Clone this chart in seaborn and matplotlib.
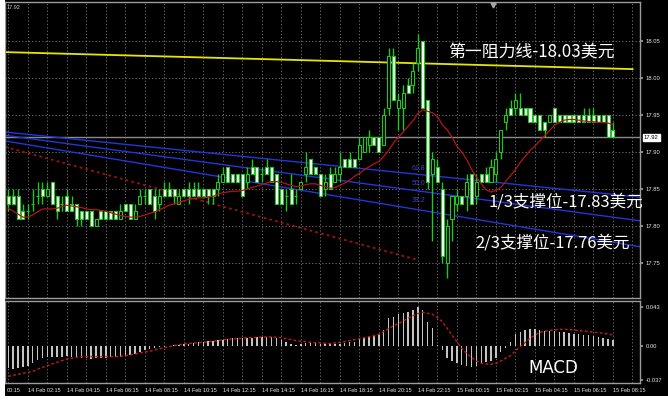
import numpy as np
import pandas as pd
import matplotlib
matplotlib.use("Agg")
import matplotlib.pyplot as plt
import matplotlib.transforms as mtransforms
import seaborn as sns

sns.set_theme(style="dark")
plt.rcParams["font.family"] = ["Noto Sans CJK SC", "DejaVu Sans"]
plt.rcParams["axes.unicode_minus"] = False

# ---- XAG/USD 15-minute bars, 14 Feb 01:15 .. 15 Feb 08:15 ----
open_ = [17.84, 17.84, 17.84, 17.82, 17.82, 17.83, 17.84, 17.85, 17.84, 17.86,
         17.84, 17.83, 17.84, 17.83, 17.83, 17.82, 17.82, 17.82, 17.80, 17.82,
         17.82, 17.82, 17.82, 17.81, 17.83, 17.83, 17.81, 17.83, 17.84, 17.85,
         17.84, 17.83, 17.85, 17.85, 17.85, 17.83, 17.85, 17.85, 17.85, 17.85,
         17.85, 17.85, 17.85, 17.85, 17.86, 17.88, 17.87, 17.87, 17.87, 17.86,
         17.88, 17.88, 17.87, 17.88, 17.88, 17.87, 17.85, 17.84, 17.85, 17.84,
         17.85, 17.87, 17.89, 17.88, 17.87, 17.85, 17.87, 17.86, 17.87, 17.89,
         17.89, 17.89, 17.89, 17.90, 17.91, 17.92, 17.92, 17.91, 17.96, 18.03,
         17.96, 17.96, 17.99, 17.99, 18.02, 18.05, 17.97, 17.87, 17.88, 17.85,
         17.75, 17.81, 17.83, 17.84, 17.84, 17.87, 17.84, 17.87, 17.87, 17.86,
         17.87, 17.90, 17.94, 17.96, 17.96, 17.96, 17.96, 17.96, 17.95, 17.95,
         17.94, 17.94, 17.96, 17.95, 17.95, 17.95, 17.95, 17.95, 17.95, 17.95,
         17.95, 17.95, 17.95, 17.95, 17.93]
high = [17.85, 17.85, 17.85, 17.83, 17.83, 17.85, 17.86, 17.86, 17.86, 17.86,
        17.84, 17.84, 17.85, 17.84, 17.83, 17.82, 17.82, 17.82, 17.81, 17.82,
        17.82, 17.82, 17.82, 17.83, 17.83, 17.83, 17.83, 17.85, 17.85, 17.85,
        17.85, 17.85, 17.86, 17.86, 17.85, 17.85, 17.85, 17.86, 17.86, 17.86,
        17.85, 17.85, 17.85, 17.87, 17.88, 17.88, 17.87, 17.87, 17.87, 17.88,
        17.89, 17.88, 17.88, 17.89, 17.88, 17.87, 17.85, 17.85, 17.87, 17.85,
        17.86, 17.90, 17.89, 17.88, 17.87, 17.87, 17.88, 17.88, 17.90, 17.89,
        17.90, 17.89, 17.92, 17.92, 17.93, 17.92, 17.92, 17.96, 18.04, 18.04,
        17.98, 17.99, 18.00, 18.02, 18.06, 18.05, 17.97, 17.90, 17.89, 17.86,
        17.81, 17.84, 17.85, 17.84, 17.87, 17.87, 17.87, 17.87, 17.88, 17.89,
        17.90, 17.93, 17.96, 17.97, 17.98, 17.98, 17.96, 17.96, 17.95, 17.95,
        17.94, 17.95, 17.96, 17.95, 17.95, 17.95, 17.95, 17.95, 17.96, 17.96,
        17.96, 17.95, 17.95, 17.95, 17.94]
low = [17.82, 17.83, 17.81, 17.81, 17.81, 17.82, 17.83, 17.83, 17.84, 17.83,
       17.81, 17.82, 17.82, 17.82, 17.80, 17.80, 17.81, 17.80, 17.80, 17.81,
       17.81, 17.81, 17.81, 17.81, 17.82, 17.81, 17.81, 17.83, 17.83, 17.83,
       17.81, 17.82, 17.84, 17.84, 17.83, 17.83, 17.84, 17.83, 17.84, 17.84,
       17.84, 17.83, 17.83, 17.84, 17.86, 17.86, 17.86, 17.86, 17.84, 17.85,
       17.87, 17.86, 17.86, 17.87, 17.86, 17.83, 17.83, 17.82, 17.83, 17.83,
       17.85, 17.86, 17.87, 17.87, 17.84, 17.84, 17.85, 17.86, 17.86, 17.88,
       17.88, 17.88, 17.89, 17.90, 17.90, 17.91, 17.90, 17.91, 17.95, 17.97,
       17.93, 17.93, 17.98, 17.98, 18.01, 17.96, 17.85, 17.78, 17.86, 17.75,
       17.73, 17.78, 17.82, 17.83, 17.82, 17.83, 17.83, 17.86, 17.86, 17.86,
       17.86, 17.89, 17.93, 17.95, 17.95, 17.95, 17.95, 17.94, 17.94, 17.93,
       17.92, 17.94, 17.94, 17.94, 17.94, 17.94, 17.94, 17.94, 17.94, 17.94,
       17.94, 17.94, 17.94, 17.92, 17.92]
close = [17.83, 17.83, 17.81, 17.81, 17.82, 17.83, 17.84, 17.84, 17.85, 17.83,
         17.82, 17.83, 17.82, 17.82, 17.81, 17.81, 17.81, 17.80, 17.81, 17.81,
         17.81, 17.81, 17.81, 17.82, 17.82, 17.81, 17.82, 17.84, 17.84, 17.83,
         17.82, 17.84, 17.84, 17.84, 17.84, 17.84, 17.84, 17.84, 17.84, 17.84,
         17.84, 17.84, 17.84, 17.86, 17.87, 17.86, 17.86, 17.86, 17.84, 17.87,
         17.87, 17.86, 17.87, 17.87, 17.86, 17.83, 17.83, 17.84, 17.83, 17.84,
         17.86, 17.88, 17.87, 17.87, 17.84, 17.86, 17.85, 17.87, 17.88, 17.88,
         17.88, 17.88, 17.91, 17.92, 17.92, 17.91, 17.90, 17.95, 18.03, 17.97,
         17.97, 17.98, 17.98, 18.01, 18.04, 17.96, 17.86, 17.89, 17.86, 17.76,
         17.80, 17.84, 17.84, 17.83, 17.86, 17.83, 17.86, 17.86, 17.86, 17.88,
         17.89, 17.93, 17.95, 17.95, 17.97, 17.95, 17.95, 17.94, 17.94, 17.93,
         17.93, 17.95, 17.94, 17.94, 17.94, 17.94, 17.94, 17.94, 17.94, 17.94,
         17.94, 17.94, 17.94, 17.92, 17.92]

# moving average drawn over the price
ma = [17.824, 17.820, 17.816, 17.812, 17.812, 17.815, 17.819, 17.823, 17.823, 17.823,
      17.824, 17.826, 17.828, 17.827, 17.826, 17.825, 17.823, 17.822, 17.822, 17.821,
      17.820, 17.818, 17.816, 17.814, 17.813, 17.812, 17.812, 17.813, 17.815, 17.817,
      17.819, 17.822, 17.825, 17.828, 17.830, 17.832, 17.834, 17.836, 17.837, 17.838,
      17.838, 17.839, 17.840, 17.843, 17.845, 17.846, 17.847, 17.847, 17.848, 17.850,
      17.852, 17.854, 17.856, 17.858, 17.860, 17.860, 17.859, 17.857, 17.855, 17.853,
      17.854, 17.856, 17.857, 17.857, 17.855, 17.853, 17.851, 17.852, 17.855, 17.858,
      17.862, 17.867, 17.871, 17.876, 17.880, 17.884, 17.887, 17.894, 17.902, 17.912,
      17.920, 17.927, 17.935, 17.942, 17.952, 17.957, 17.955, 17.953, 17.948, 17.937,
      17.930, 17.920, 17.908, 17.900, 17.890, 17.877, 17.866, 17.857, 17.849, 17.846,
      17.848, 17.852, 17.860, 17.868, 17.876, 17.886, 17.894, 17.902, 17.908, 17.915,
      17.922, 17.929, 17.936, 17.940, 17.943, 17.944, 17.944, 17.943, 17.942, 17.941,
      17.941, 17.940, 17.940, 17.939, 17.937]

# MACD main (histogram) and signal line
macd = [-0.0241, -0.0248, -0.0234, -0.0223, -0.0212, -0.0186, -0.0150, -0.0131, -0.0120, -0.0113,
        -0.0113, -0.0113, -0.0110, -0.0113, -0.0120, -0.0128, -0.0131, -0.0135, -0.0131, -0.0128,
        -0.0124, -0.0120, -0.0117, -0.0113, -0.0106, -0.0095, -0.0080, -0.0066, -0.0044, -0.0026,
        -0.0015, -0.0007, -0.0004, 0.0004, 0.0011, 0.0018, 0.0026, 0.0029, 0.0037, 0.0044,
        0.0051, 0.0055, 0.0058, 0.0066, 0.0073, 0.0084, 0.0088, 0.0088, 0.0088, 0.0091,
        0.0095, 0.0099, 0.0102, 0.0106, 0.0102, 0.0091, 0.0073, 0.0044, 0.0022, 0.0015,
        0.0022, 0.0033, 0.0040, 0.0037, 0.0029, 0.0026, 0.0022, 0.0026, 0.0029, 0.0037,
        0.0044, 0.0051, 0.0088, 0.0102, 0.0113, 0.0120, 0.0139, 0.0179, 0.0307, 0.0325,
        0.0350, 0.0361, 0.0376, 0.0398, 0.0430, 0.0398, 0.0270, 0.0197, 0.0015, -0.0040,
        -0.0124, -0.0161, -0.0186, -0.0204, -0.0212, -0.0223, -0.0212, -0.0193, -0.0175, -0.0157,
        -0.0124, -0.0066, -0.0015, 0.0044, 0.0131, 0.0153, 0.0175, 0.0186, 0.0186, 0.0175,
        0.0164, 0.0164, 0.0164, 0.0157, 0.0153, 0.0146, 0.0139, 0.0131, 0.0128, 0.0120,
        0.0113, 0.0106, 0.0095, 0.0084, 0.0069]
signal = [-0.0329, -0.0318, -0.0307, -0.0296, -0.0285, -0.0274, -0.0252, -0.0230, -0.0212, -0.0193,
          -0.0175, -0.0157, -0.0139, -0.0131, -0.0120, -0.0113, -0.0113, -0.0113, -0.0113, -0.0113,
          -0.0113, -0.0113, -0.0113, -0.0110, -0.0102, -0.0095, -0.0084, -0.0073, -0.0062, -0.0055,
          -0.0040, -0.0026, -0.0015, -0.0004, 0.0007, 0.0018, 0.0026, 0.0029, 0.0037, 0.0040,
          0.0044, 0.0051, 0.0055, 0.0062, 0.0069, 0.0077, 0.0080, 0.0084, 0.0088, 0.0095,
          0.0095, 0.0099, 0.0102, 0.0102, 0.0102, 0.0099, 0.0095, 0.0084, 0.0073, 0.0062,
          0.0055, 0.0051, 0.0044, 0.0040, 0.0037, 0.0033, 0.0029, 0.0037, 0.0044, 0.0051,
          0.0062, 0.0073, 0.0084, 0.0095, 0.0106, 0.0117, 0.0131, 0.0161, 0.0193, 0.0226,
          0.0248, 0.0277, 0.0307, 0.0336, 0.0358, 0.0372, 0.0361, 0.0350, 0.0314, 0.0270,
          0.0197, 0.0124, 0.0051, -0.0022, -0.0077, -0.0124, -0.0161, -0.0186, -0.0193, -0.0197,
          -0.0186, -0.0161, -0.0131, -0.0102, -0.0051, -0.0004, 0.0040, 0.0088, 0.0120, 0.0153,
          0.0164, 0.0175, 0.0179, 0.0186, 0.0186, 0.0183, 0.0179, 0.0172, 0.0168, 0.0161,
          0.0153, 0.0150, 0.0142, 0.0135, 0.0124]

# time-axis labels (every 2 hours)
tick_labels = ["14 Feb 02:15", "14 Feb 04:15", "14 Feb 06:15", "14 Feb 08:15",
               "14 Feb 10:15", "14 Feb 12:15", "14 Feb 14:15", "14 Feb 16:15",
               "14 Feb 18:15", "14 Feb 20:15", "14 Feb 22:15", "15 Feb 00:15",
               "15 Feb 02:15", "15 Feb 04:15", "15 Feb 06:15", "15 Feb 08:15"]
price_ticks = [17.75, 17.80, 17.85, 17.90, 17.95, 18.00, 18.05]
macd_ticks = [-0.037, 0.0, 0.043]
macd_tick_labels = ["-0.037", "0.00", "0.043"]
last_price = 17.92

# drawn trend lines: (bar position, price) at both ends
resistance_line = [(-0.68, 18.035), (128.1, 18.012)]
fib_lines = {"61.8": [(-0.68, 17.927), (129.6, 17.839)],
             "50.0": [(-0.68, 17.9226), (129.6, 17.807)],
             "38.2": [(-0.68, 17.915), (129.6, 17.772)]}
down_trend = [(-0.68, 17.907), (84.05, 17.754)]

# annotation levels
resistance_level = 18.03
support_1 = 17.83
support_2 = 17.76

assert len({len(open_), len(high), len(low), len(close), len(ma), len(macd), len(signal)}) == 1

n = len(close)
idx = np.arange(n)
times = pd.date_range("2024-02-14 01:15", periods=n, freq="15min")
stamp = [t.strftime("%d %b %H:%M") for t in times]
label_pos = [stamp.index(lbl) for lbl in tick_labels]

df = pd.DataFrame({"bar": idx, "open": open_, "high": high, "low": low,
                   "close": close, "ma": ma, "macd": macd, "signal": signal})

GREEN = "#1ec81e"
GRID = "#7d7d7d"
SPINE = "#9c9c9c"
TXT = "#e6e6e6"
SMALL = "Liberation Sans"

W, H = 668, 400


def box(x0, y0, x1, y1):
    return [x0 / W, 1 - y1 / H, (x1 - x0) / W, (y1 - y0) / H]


fig = plt.figure(figsize=(W / 100, H / 100), dpi=100)
fig.patch.set_facecolor("black")
ax = fig.add_axes(box(5, 2, 640, 298))
ax2 = fig.add_axes(box(5, 301, 640, 383), sharex=ax)

for a in (ax, ax2):
    a.set_facecolor("black")
    for s in a.spines.values():
        s.set_color(SPINE)
        s.set_linewidth(1.0)
        s.set_visible(True)
    a.set_axisbelow(True)

# ---- main price panel ----
ax.set_xlim(-0.677, 129.56)
ax.set_ylim(17.7027, 18.1027)

ax.set_xticks(label_pos)
ax.set_xticks(np.arange(0, 130, 4), minor=True)
ax.grid(True, axis="x", which="both", color=GRID, linestyle=(0, (1.5, 2.5)), linewidth=0.6)
ax.grid(True, axis="y", which="major", color=GRID, linestyle=(0, (1.5, 2.5)), linewidth=0.6)
ax.tick_params(axis="x", which="both", length=0, labelbottom=False)
ax.yaxis.tick_right()
ax.set_yticks(price_ticks)
ax.set_yticklabels([f"{v:.2f}" for v in price_ticks])
ax.tick_params(axis="y", labelsize=4.2, labelcolor=TXT, length=2, color=SPINE, pad=2)
for lbl in ax.get_yticklabels():
    lbl.set_family(SMALL)

# last-price line and tag
ax.axhline(last_price, color="#8a8a8a", lw=1.0, zorder=1)
blend = mtransforms.blended_transform_factory(ax.transAxes, ax.transData)
ax.text(1.006, last_price, f"{last_price:.2f}", transform=blend, fontsize=4.2,
        color="black", va="center", ha="left", family=SMALL,
        bbox=dict(facecolor="white", edgecolor="white", pad=0.8))

# trend lines
(rx0, ry0), (rx1, ry1) = resistance_line
ax.plot([rx0, rx1], [ry0, ry1], color="#e6e600", lw=1.3, zorder=2)
for name, ((fx0, fy0), (fx1, fy1)) in fib_lines.items():
    ax.plot([fx0, fx1], [fy0, fy1], color="#2236d8", lw=1.0, zorder=2)
(dx0, dy0), (dx1, dy1) = down_trend
ax.plot([dx0, dx1], [dy0, dy1], color="#a01212", lw=1.3, linestyle=(0, (1.5, 1.8)), zorder=2)
for name, y in zip(fib_lines, [17.878, 17.857, 17.834]):
    ax.text(82.8, y, name, color="#3446c8", fontsize=5, ha="left", va="center",
            family=SMALL, zorder=3)

# candlesticks
bull = df["close"] >= df["open"]
ax.vlines(df["bar"], df["low"], df["high"], color=GREEN, lw=1.0, zorder=3)
body_lo = np.minimum(df["open"], df["close"])
body_h = np.abs(df["close"] - df["open"])
ax.bar(df["bar"], body_h, bottom=body_lo, width=0.62,
       color=np.where(bull, "black", "white"), edgecolor=GREEN, linewidth=0.8, zorder=4)

# moving average
sns.lineplot(data=df, x="bar", y="ma", ax=ax, color="#b81414", lw=0.9, zorder=5)
ax.set_xlabel("")
ax.set_ylabel("")

# annotations
ax.text(90.2, 18.035, f"第一阻力线-{resistance_level:.2f}美元", color="white",
        fontsize=12.2, ha="left", va="center", zorder=6)
ax.text(98.4, 17.833, f"1/3支撑位-{support_1:.2f}美元", color="white",
        fontsize=11.9, ha="left", va="center", zorder=6)
ax.text(95.7, 17.777, f"2/3支撑位-{support_2:.2f}美元", color="white",
        fontsize=11.9, ha="left", va="center", zorder=6)
ax.text(0.002, 0.99, f"{last_price:.2f}", transform=ax.transAxes, fontsize=4,
        color="#d0d0d0", ha="left", va="top", family=SMALL)
ax.plot([99.4], [18.099], marker="v", color="#a8a8a8", markersize=3.5, clip_on=False, zorder=6)

# ---- MACD panel ----
ax2.set_ylim(-0.0402, 0.0496)
sns.barplot(data=df, x="bar", y="macd", ax=ax2, native_scale=True, width=0.3,
            color="#c4c4c4", saturation=1, errorbar=None, linewidth=0)
sns.lineplot(data=df, x="bar", y="signal", ax=ax2, color="#c41a1a", lw=1.0,
             linestyle=(0, (2, 1.6)))
ax2.set_xlim(-0.677, 129.56)
ax2.set_xlabel("")
ax2.set_ylabel("")
ax2.set_xticks(label_pos)
ax2.set_xticklabels(tick_labels)
ax2.set_xticks(np.arange(0, 130, 4), minor=True)
ax2.grid(True, axis="x", which="both", color=GRID, linestyle=(0, (1.5, 2.5)), linewidth=0.6)
ax2.grid(False, axis="y")
ax2.tick_params(axis="x", which="both", length=0, labelsize=4.0, labelcolor=TXT, pad=3.5)
for lbl in ax2.get_xticklabels():
    lbl.set_horizontalalignment("left")
    lbl.set_family(SMALL)
ax2.text(-0.27, -0.0402 - 0.0052, "00:15", fontsize=4.0, color=TXT, ha="left", va="top",
         family=SMALL, clip_on=False)
ax2.yaxis.tick_right()
ax2.set_yticks(macd_ticks)
ax2.set_yticklabels(macd_tick_labels)
ax2.tick_params(axis="y", labelsize=4.2, labelcolor=TXT, length=2, color=SPINE, pad=2)
for lbl in ax2.get_yticklabels():
    lbl.set_family(SMALL)
ax2.text(106.6, -0.0234, "MACD", color="white", fontsize=12, ha="left", va="center",
         family="DejaVu Sans")

# light outer margin on the left and bottom
fig.add_artist(plt.Rectangle((0, 0), 5 / W, 1, transform=fig.transFigure,
                             facecolor="white", edgecolor="none", zorder=10))
fig.add_artist(plt.Rectangle((0, 0), 1, 4 / H, transform=fig.transFigure,
                             facecolor="white", edgecolor="none", zorder=10))

fig.savefig("out.png", dpi=100, facecolor=fig.get_facecolor())
